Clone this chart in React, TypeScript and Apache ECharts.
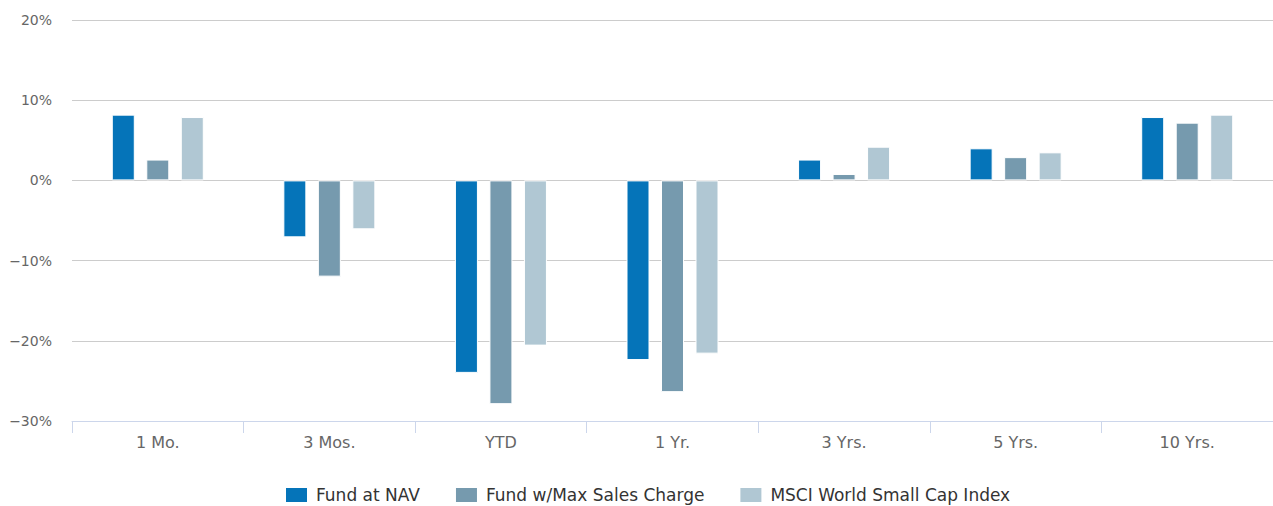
import React, { useEffect, useRef } from "react";
import * as echarts from "echarts";

const categories = ["1 Mo.", "3 Mos.", "YTD", "1 Yr.", "3 Yrs.", "5 Yrs.", "10 Yrs."];
const fundAtNav = [8.2, -7.1, -24.0, -22.4, 2.6, 4.0, 7.9];
const fundMaxCharge = [2.6, -12.0, -27.9, -26.4, 0.8, 2.9, 7.2];
const msciIndex = [7.9, -6.1, -20.6, -21.6, 4.2, 3.5, 8.2];
const seriesNames = ["Fund at NAV", "Fund w/Max Sales Charge", "MSCI World Small Cap Index"];
const seriesColors = ["#0574b9", "#769aae", "#b0c7d3"];

export default function App() {
  const ref = useRef<HTMLDivElement>(null);
  useEffect(() => {
    if (!ref.current) return;
    const chart = echarts.init(ref.current, undefined, { renderer: "svg" });
    const font = "'DejaVu Sans', Verdana, sans-serif";
    const data = [fundAtNav, fundMaxCharge, msciIndex];
    chart.setOption({
      animation: false,
      textStyle: { fontFamily: font },
      grid: { left: 72, right: 0, top: 20, bottom: 85, containLabel: false },
      legend: {
        top: 486,
        left: 284,
        padding: 0,
        itemWidth: 23,
        itemHeight: 16,
        itemGap: 34,
        icon: "rect",
        textStyle: { fontSize: 17, color: "#333", fontFamily: font, padding: [0, 0, 0, 3] },
        data: seriesNames,
      },
      xAxis: {
        type: "category",
        data: categories,
        axisLine: { show: true, onZero: false, lineStyle: { color: "#ccd6eb", width: 1 } },
        axisTick: { show: true, length: 12, lineStyle: { color: "#ccd6eb" } },
        axisLabel: { color: "#666", fontSize: 16, margin: 13, fontFamily: font },
        splitLine: { show: false },
      },
      yAxis: {
        type: "value",
        min: -30,
        max: 20,
        interval: 10,
        axisLine: { show: false },
        axisTick: { show: false },
        axisLabel: {
          color: "#666",
          fontSize: 14,
          margin: 20,
          fontFamily: font,
          formatter: (v: number) => (v < 0 ? "\u2212" + Math.abs(v) : String(v)) + "%",
        },
        splitLine: { lineStyle: { color: "#cccccc", width: 1 } },
      },
      series: seriesNames.map((name, i) => ({
        name,
        type: "bar",
        data: data[i],
        barWidth: 23,
        barGap: "50%",
        itemStyle: { color: seriesColors[i], borderColor: "#fff", borderWidth: 1 },
      })),
    });
    return () => chart.dispose();
  }, []);
  return (
    <div
      ref={ref}
      style={{ position: "absolute", left: 0, top: 0, width: 1273, height: 506 }}
    />
  );
}
